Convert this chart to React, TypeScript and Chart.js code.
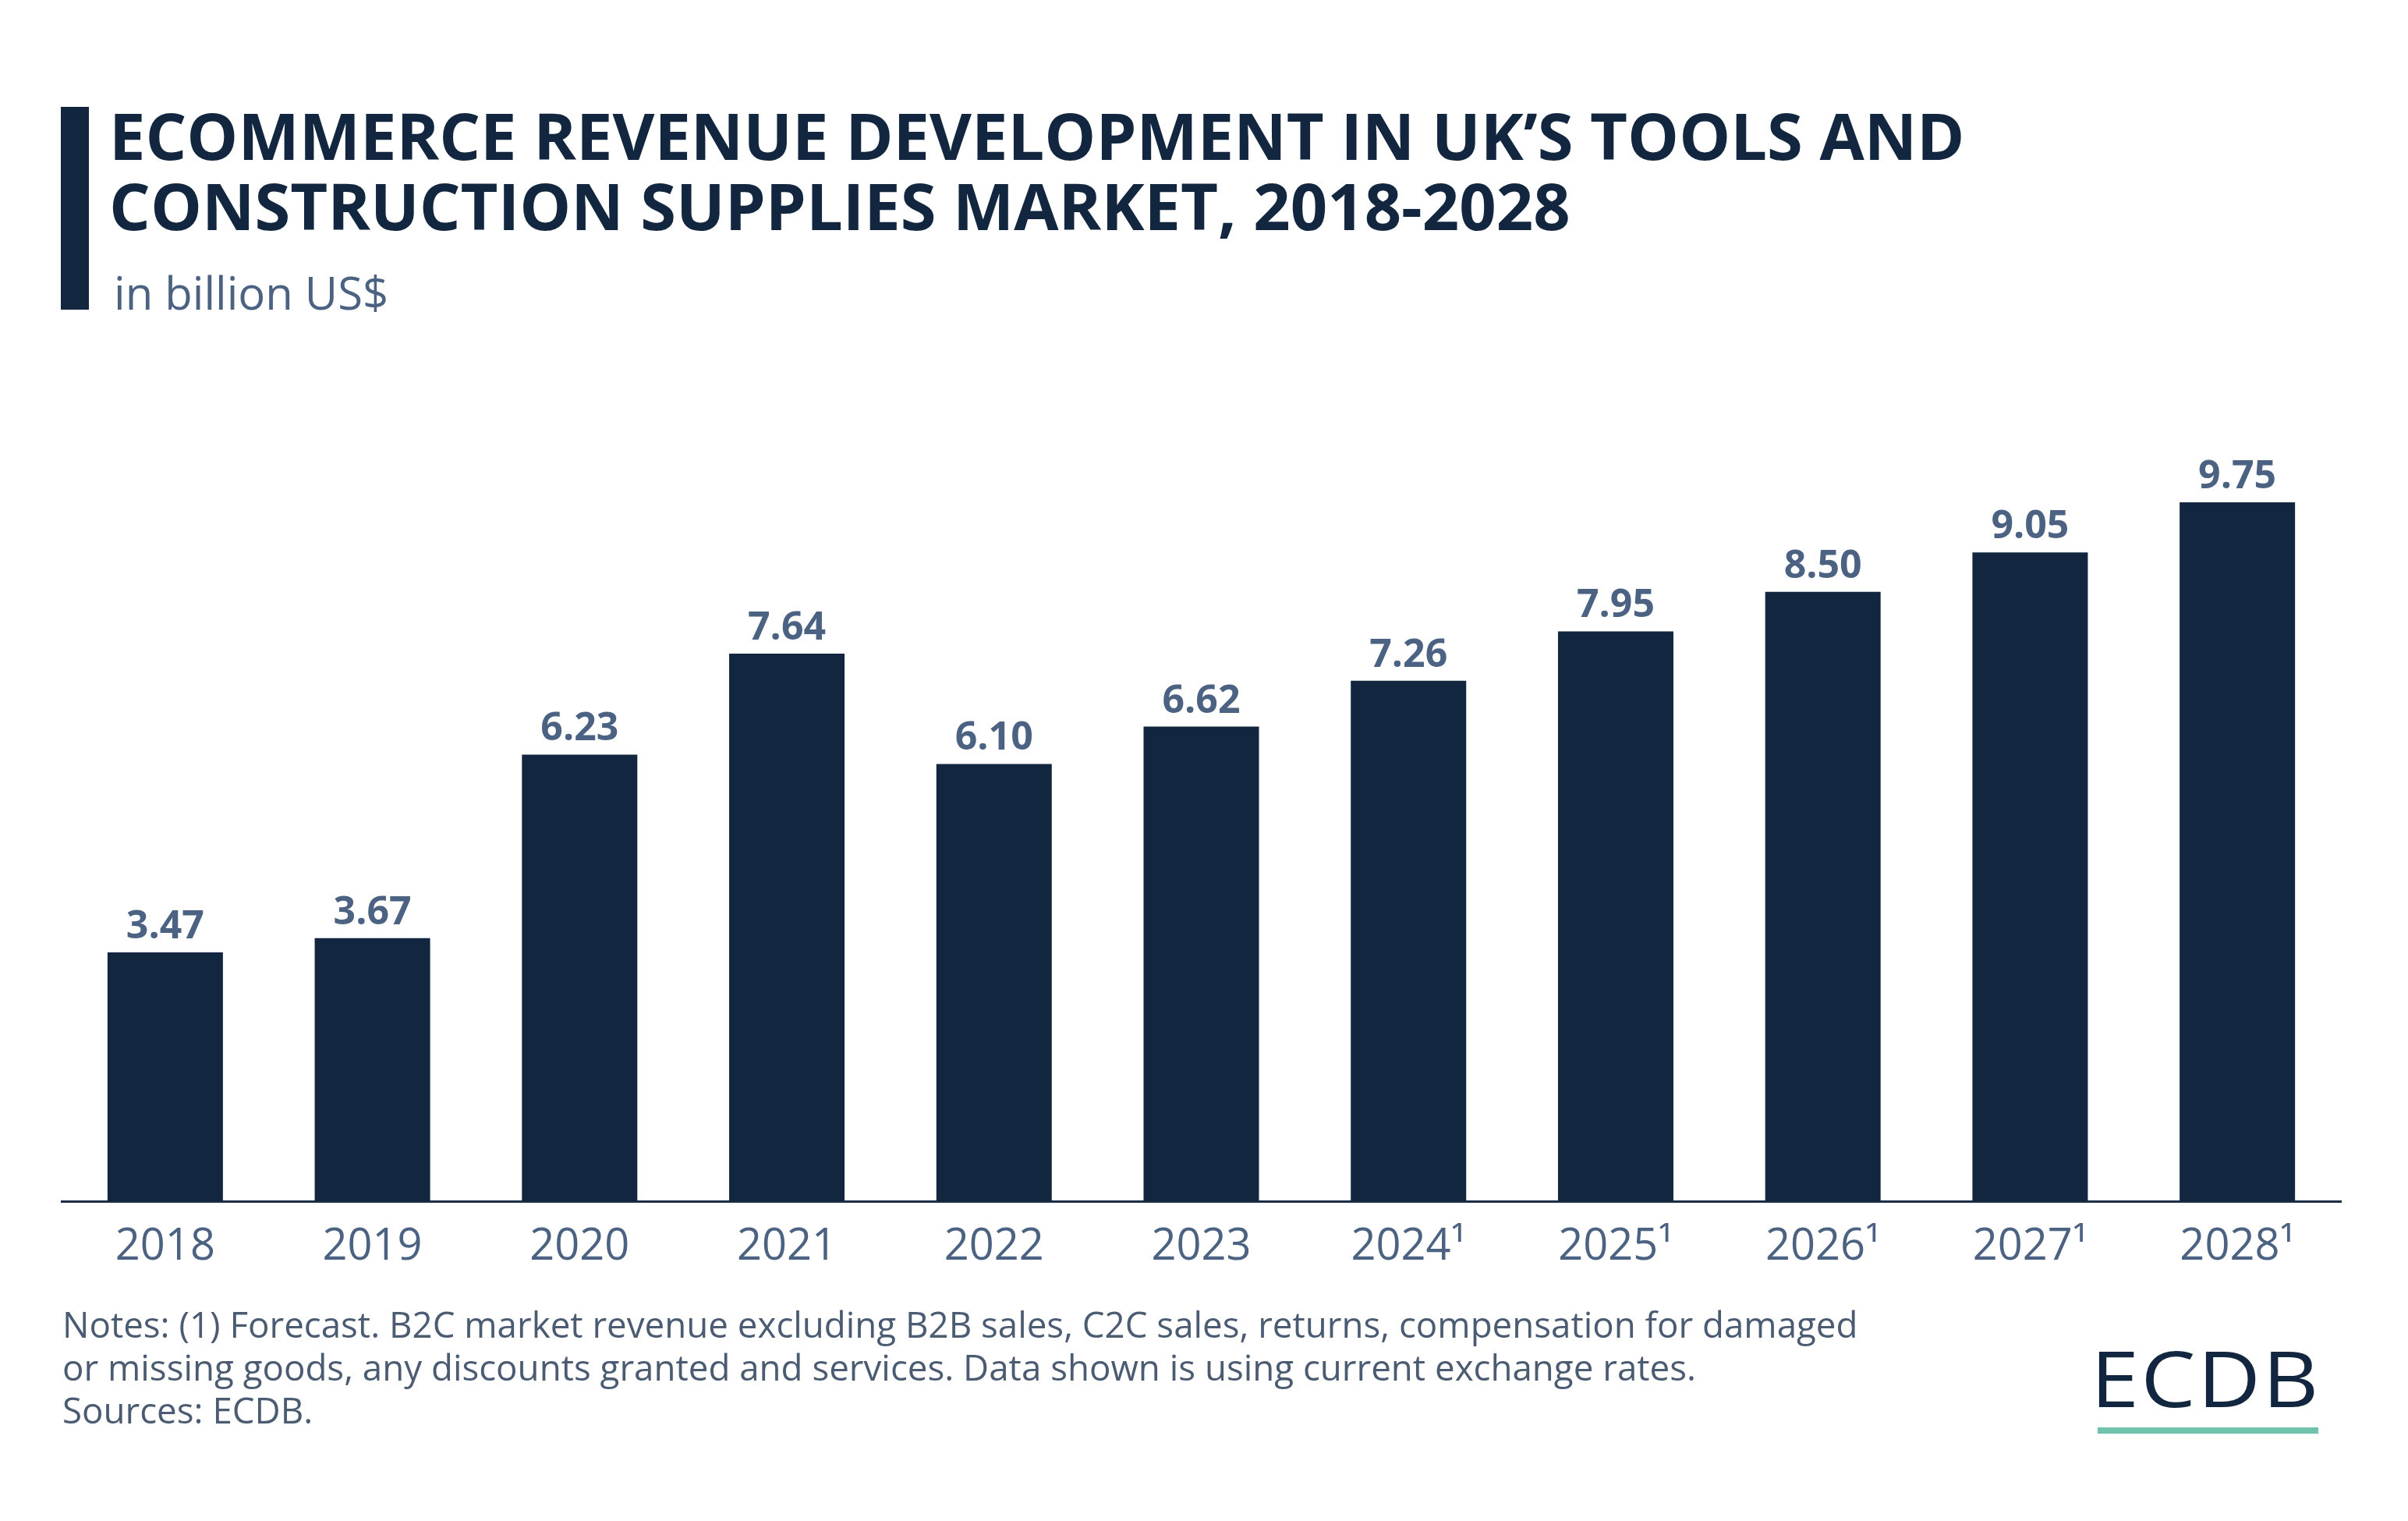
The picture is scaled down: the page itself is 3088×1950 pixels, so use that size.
import React, { useEffect, useRef } from "react";
import { Chart, registerables } from "chart.js";

Chart.register(...registerables);

const categories = ["2018", "2019", "2020", "2021", "2022", "2023", "2024¹", "2025¹", "2026¹", "2027¹", "2028¹"];
const revenue = [3.47, 3.67, 6.23, 7.64, 6.1, 6.62, 7.26, 7.95, 8.5, 9.05, 9.75];
const valueLabels = ["3.47", "3.67", "6.23", "7.64", "6.10", "6.62", "7.26", "7.95", "8.50", "9.05", "9.75"];

const titleLines = ["ECOMMERCE REVENUE DEVELOPMENT IN UK’S TOOLS AND", "CONSTRUCTION SUPPLIES MARKET, 2018-2028"];
const subtitle = "in billion US$";
const noteLines = [
  "Notes: (1) Forecast. B2C market revenue excluding B2B sales, C2C sales, returns, compensation for damaged",
  "or missing goods, any discounts granted and services. Data shown is using current exchange rates.",
  "Sources: ECDB.",
];

const NAVY = "#12273f";
const SLATE = "#4b6282";
const FONT = "'Open Sans', 'Noto Sans', sans-serif";

const valueLabelPlugin = {
  id: "valueLabels",
  afterDatasetsDraw(chart: any) {
    const ctx = chart.ctx;
    const meta = chart.getDatasetMeta(0);
    ctx.save();
    ctx.font = `700 50px ${FONT}`;
    ctx.fillStyle = SLATE;
    ctx.textAlign = "center";
    ctx.textBaseline = "alphabetic";
    meta.data.forEach((bar: any, i: number) => {
      ctx.fillText(valueLabels[i], bar.x, bar.y - 18);
    });
    ctx.restore();
  },
};

export default function App() {
  const canvasRef = useRef<HTMLCanvasElement | null>(null);

  useEffect(() => {
    if (!canvasRef.current) return;
    const chart = new Chart(canvasRef.current, {
      type: "bar",
      data: {
        labels: categories,
        datasets: [
          {
            data: revenue,
            backgroundColor: NAVY,
            borderWidth: 0,
            barPercentage: 0.557,
            categoryPercentage: 1,
          },
        ],
      },
      options: {
        animation: false,
        responsive: false,
        devicePixelRatio: 1,
        layout: { padding: { left: 79, right: 86, top: 621, bottom: 290 } },
        plugins: { legend: { display: false }, tooltip: { enabled: false } },
        scales: {
          x: {
            offset: true,
            grid: { display: false, drawTicks: false },
            border: { display: true, color: "#1b2e45", width: 3 },
            ticks: {
              color: SLATE,
              font: { family: FONT, size: 56, weight: "400" },
              padding: 25,
              maxRotation: 0,
              autoSkip: false,
            },
            afterFit(scale: any) {
              scale.height = 120;
            },
          },
          y: {
            display: false,
            min: 0,
            max: 10,
          },
        },
      },
      plugins: [valueLabelPlugin],
    });
    return () => chart.destroy();
  }, []);

  return (
    <div style={{ position: "absolute", left: 0, top: 0, width: 3088, height: 1950, background: "#ffffff", overflow: "hidden" }}>
      <div style={{ position: "absolute", left: 78, top: 137, width: 36, height: 260, background: NAVY }} />
      <div
        style={{
          position: "absolute",
          left: 140,
          top: 128,
          fontFamily: FONT,
          fontWeight: 700,
          fontSize: 83,
          lineHeight: "90px",
          color: NAVY,
          whiteSpace: "nowrap",
        }}
      >
        {titleLines.map((t, i) => (
          <div key={i}>{t}</div>
        ))}
      </div>
      <div
        style={{
          position: "absolute",
          left: 146,
          top: 335,
          fontFamily: FONT,
          fontWeight: 400,
          fontSize: 58,
          lineHeight: "79px",
          color: SLATE,
          whiteSpace: "nowrap",
        }}
      >
        {subtitle}
      </div>
      <canvas ref={canvasRef} width={3088} height={1950} style={{ position: "absolute", left: 0, top: 0, width: 3088, height: 1950 }} />
      <div
        style={{
          position: "absolute",
          left: 80,
          top: 1670,
          fontFamily: FONT,
          fontWeight: 400,
          fontSize: 45.7,
          lineHeight: "55px",
          color: "#4a5b72",
          whiteSpace: "nowrap",
        }}
      >
        {noteLines.map((t, i) => (
          <div key={i}>{t}</div>
        ))}
      </div>
      <div
        style={{
          position: "absolute",
          left: 2681,
          top: 1700,
          fontFamily: FONT,
          fontWeight: 500,
          fontSize: 98,
          lineHeight: "133px",
          letterSpacing: 2,
          color: NAVY,
          whiteSpace: "nowrap",
          transform: "scaleX(1.14)",
          transformOrigin: "0 0",
        }}
      >
        ECDB
      </div>
      <div style={{ position: "absolute", left: 2690, top: 1830, width: 283, height: 8, background: "#6fc3ad" }} />
    </div>
  );
}
